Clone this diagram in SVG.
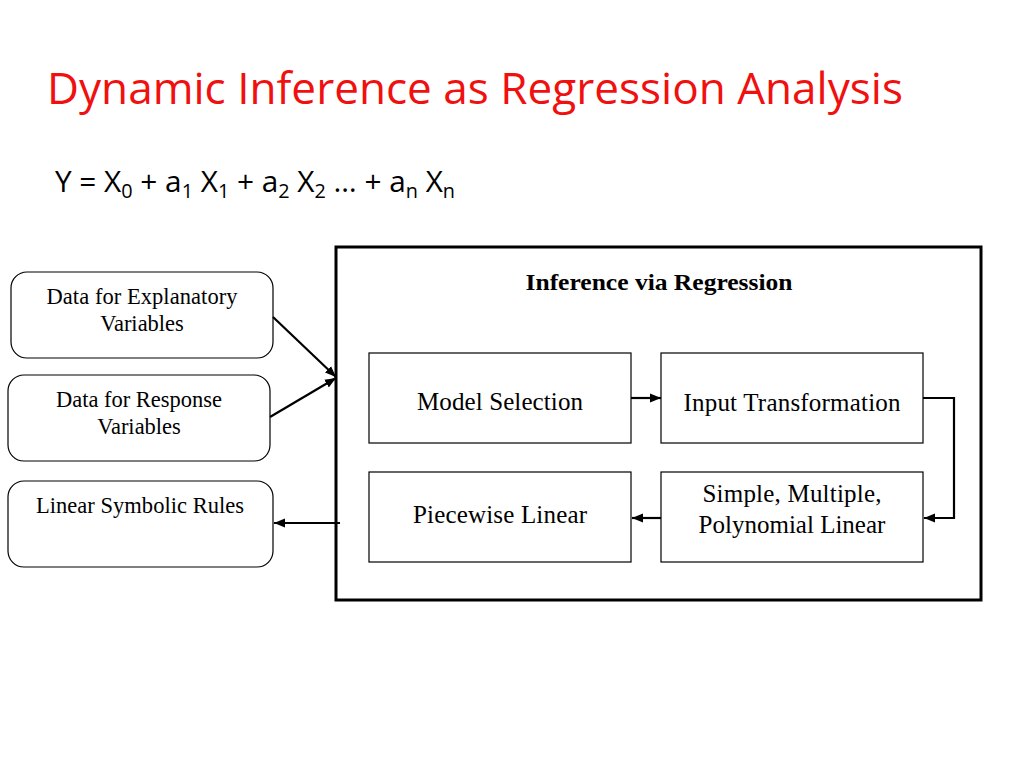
<svg xmlns="http://www.w3.org/2000/svg" width="1024" height="768" viewBox="0 0 1024 768">
<style>
.t{font-family:"Liberation Serif","Times New Roman",serif;font-size:22.5px;fill:#000;text-anchor:middle}
.b{font-size:25px}
.r{fill:#fff;stroke:#000;stroke-width:1.2}
.c{fill:none;stroke:#000;stroke-width:2.2}
</style>
<defs>
<marker id="a" viewBox="0 0 10 10" refX="10" refY="5" markerWidth="5" markerHeight="5" orient="auto" markerUnits="strokeWidth">
<path d="M0,1 L10,5 L0,9 z" fill="#000"/>
</marker>
</defs>
<rect width="1024" height="768" fill="#fff"/>
<text x="47" y="104" font-family="Open Sans, Liberation Sans, sans-serif" font-size="44" fill="#F01010" textLength="856" lengthAdjust="spacingAndGlyphs">Dynamic Inference as Regression Analysis</text>
<text x="55" y="192" font-family="Open Sans, Liberation Sans, sans-serif" font-size="30" fill="#000" textLength="400" lengthAdjust="spacingAndGlyphs">Y = X<tspan font-size="20" dy="6">0</tspan><tspan dy="-6"> + a</tspan><tspan font-size="20" dy="6">1</tspan><tspan dy="-6"> X</tspan><tspan font-size="20" dy="6">1</tspan><tspan dy="-6"> + a</tspan><tspan font-size="20" dy="6">2</tspan><tspan dy="-6"> X</tspan><tspan font-size="20" dy="6">2</tspan><tspan dy="-6"> … + a</tspan><tspan font-size="20" dy="6">n</tspan><tspan dy="-6"> X</tspan><tspan font-size="20" dy="6">n</tspan></text>

<g id="explanatory">
<rect class="r" x="11" y="272" width="262" height="86" rx="16"/>
<text class="t" x="142" y="304" textLength="191">Data for Explanatory</text>
<text class="t" x="142" y="331">Variables</text>
</g>
<g id="response">
<rect class="r" x="8" y="375" width="262" height="86" rx="16"/>
<text class="t" x="139" y="407">Data for Response</text>
<text class="t" x="139" y="434">Variables</text>
</g>
<g id="rules">
<rect class="r" x="8" y="481" width="265" height="86" rx="16"/>
<text class="t" x="140" y="513" textLength="208">Linear Symbolic Rules</text>
</g>
<g id="inference">
<rect x="336" y="247" width="645" height="353" fill="#fff" stroke="#000" stroke-width="3"/>
<text class="t" x="659" y="290" font-weight="bold" textLength="267" lengthAdjust="spacingAndGlyphs" font-size="24">Inference via Regression</text>
</g>
<g id="model">
<rect class="r" x="369" y="353" width="262" height="90"/>
<text class="t b" x="500" y="410" textLength="166">Model Selection</text>
</g>
<g id="input">
<rect class="r" x="661" y="353" width="262" height="90"/>
<text class="t b" x="792" y="411" textLength="217">Input Transformation</text>
</g>
<g id="piecewise">
<rect class="r" x="369" y="472" width="262" height="90"/>
<text class="t b" x="500" y="523" textLength="174">Piecewise Linear</text>
</g>
<g id="simple">
<rect class="r" x="661" y="472" width="262" height="90"/>
<text class="t b" x="792" y="502" textLength="179">Simple, Multiple,</text>
<text class="t b" x="792" y="533">Polynomial Linear</text>
</g>
<g id="connectors">
<line class="c" x1="273" y1="317" x2="336" y2="377" marker-end="url(#a)"/>
<line class="c" x1="270" y1="417" x2="336" y2="378" marker-end="url(#a)"/>
<line class="c" x1="340" y1="523" x2="274" y2="523" marker-end="url(#a)"/>
<line class="c" x1="631" y1="398" x2="661" y2="398" marker-end="url(#a)"/>
<polyline class="c" points="923,398 954,398 954,518 924,518" marker-end="url(#a)"/>
<line class="c" x1="661" y1="518" x2="632" y2="518" marker-end="url(#a)"/>
</g>
</svg>
